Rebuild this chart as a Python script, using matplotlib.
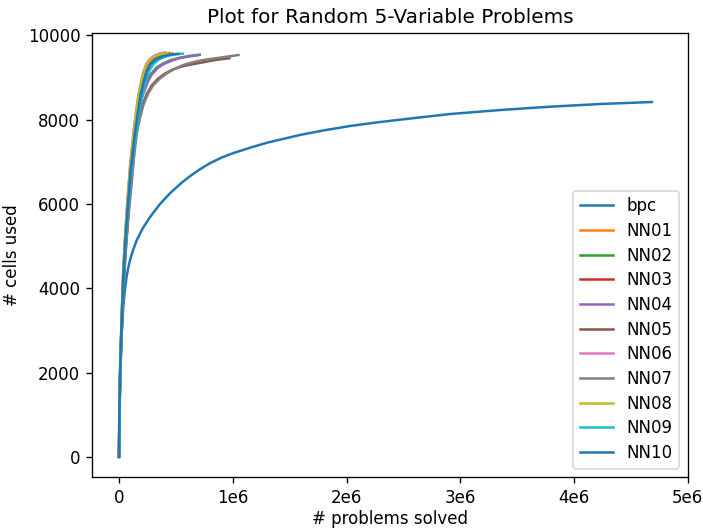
import numpy as np
import matplotlib
matplotlib.use('Agg')
import matplotlib.pyplot as plt

# values (x in millions of problems)
names = ['bpc', 'NN01', 'NN02', 'NN03', 'NN04', 'NN05', 'NN06', 'NN07', 'NN08', 'NN09', 'NN10']

bpc_x = [0, 0.001, 0.004, 0.012, 0.024, 0.038, 0.053, 0.065, 0.082, 0.1, 0.125, 0.156, 0.21, 0.273,
         0.36, 0.449, 0.55, 0.63, 0.712, 0.8, 0.9, 1.0, 1.152, 1.3, 1.592, 1.8, 2.031, 2.25, 2.471,
         2.91, 3.35, 3.79, 4.23, 4.685]
bpc_y = [0, 700, 1500, 2350, 2937, 3600, 3980, 4250, 4504, 4700, 4920, 5145, 5430, 5691,
         6000, 6258, 6505, 6673, 6825, 6970, 7100, 7205, 7336, 7454, 7640, 7748, 7852, 7931, 8002,
         8136, 8231, 8310, 8374, 8421]

nn01_x = [0, .003, .008, .016, .025, .038, .053, .074, .1, .133, .158, .18, .206, .228, .26, .3, .35, .41, .47]
nn01_y = [0, 1000, 1800, 2650, 3400, 4350, 5100, 5950, 6850, 7680, 8200, 8590, 8920, 9140, 9330, 9440, 9510, 9555, 9575]

nn02_x = [0, .003, .009, .018, .029, .044, .062, .087, .117, .141, .17, .2, .24, .273, .33, .39, .46, .536, .62, .71]
nn02_y = [0, 1000, 1800, 2650, 3400, 4350, 5100, 5950, 6850, 7875, 8300, 8588, 8880, 9062, 9240, 9340, 9420, 9474, 9515, 9545]

nn03_x = [0, .003, .008, .016, .025, .037, .052, .073, .098, .13, .155, .176, .2, .222, .255, .29, .335, .39, .44]
nn03_y = [0, 1000, 1800, 2650, 3400, 4350, 5100, 5950, 6850, 7680, 8200, 8590, 8920, 9140, 9340, 9450, 9520, 9560, 9580]

nn04_x = [0, .003, .009, .019, .03, .046, .065, .091, .123, .148, .178, .21, .25, .285, .34, .4, .47, .54, .62, .695]
nn04_y = [0, 1000, 1800, 2650, 3400, 4350, 5100, 5950, 6850, 7875, 8300, 8588, 8880, 9062, 9230, 9330, 9410, 9465, 9505, 9530]

nn05_x = [0, .004, .01, .019, .03, .045, .062, .085, .116, .15, .178, .206, .245, .29, .345, .405, .47, .545, .63, .72, .85, .97]
nn05_y = [0, 1000, 1800, 2650, 3400, 4350, 5100, 5950, 6850, 7678, 8050, 8350, 8620, 8825, 8980, 9100, 9190, 9260, 9310, 9355, 9420, 9460]

nn06_x = [0, .003, .008, .015, .024, .036, .05, .07, .095, .126, .15, .17, .195, .214, .24, .27, .31, .36, .405]
nn06_y = [0, 1000, 1800, 2650, 3400, 4350, 5100, 5950, 6850, 7680, 8200, 8590, 8920, 9140, 9330, 9440, 9520, 9575, 9600]

nn07_x = [0, .004, .01, .019, .03, .046, .064, .088, .12, .156, .185, .214, .255, .302, .36, .42, .49, .566, .65, .741, .888, 1.05]
nn07_y = [0, 1000, 1800, 2650, 3400, 4350, 5100, 5950, 6850, 7678, 8050, 8350, 8620, 8825, 8980, 9102, 9210, 9300, 9365, 9418, 9474, 9537]

nn08_x = [0, .003, .008, .015, .024, .037, .051, .072, .097, .128, .152, .173, .198, .218, .25, .285, .33, .38, .43]
nn08_y = [0, 1000, 1800, 2650, 3400, 4350, 5100, 5950, 6850, 7680, 8200, 8590, 8920, 9140, 9340, 9450, 9525, 9565, 9585]

nn09_x = [0, .003, .009, .017, .027, .041, .058, .081, .11, .148, .177, .205, .235, .262, .3, .35, .41, .49, .56]
nn09_y = [0, 1000, 1800, 2650, 3400, 4350, 5100, 5950, 6850, 7680, 8200, 8590, 8920, 9140, 9320, 9430, 9505, 9550, 9570]

nn10_x = [0, .003, .008, .016, .026, .039, .055, .077, .104, .14, .167, .19, .218, .243, .275, .32, .38, .45, .52]
nn10_y = [0, 1000, 1800, 2650, 3400, 4350, 5100, 5950, 6850, 7680, 8200, 8590, 8920, 9140, 9320, 9430, 9500, 9545, 9565]

xs = [bpc_x, nn01_x, nn02_x, nn03_x, nn04_x, nn05_x, nn06_x, nn07_x, nn08_x, nn09_x, nn10_x]
ys = [bpc_y, nn01_y, nn02_y, nn03_y, nn04_y, nn05_y, nn06_y, nn07_y, nn08_y, nn09_y, nn10_y]

xtick_vals = [0, 1e6, 2e6, 3e6, 4e6, 5e6]
xtick_labels = ['0', '1e6', '2e6', '3e6', '4e6', '5e6']

fig = plt.figure(figsize=(703 / 120, 529 / 120), dpi=120)
ax = fig.add_axes([0.1309, 0.0983, 0.8474, 0.8393])

for name, x, y in zip(names, xs, ys):
    ax.plot(np.array(x) * 1e6, y, label=name)

ax.set_xticks(xtick_vals)
ax.set_xticklabels(xtick_labels)
ax.set_xlim(-0.2375e6, 5e6)
ax.set_ylim(-479, 10059)
ax.set_title('Plot for Random 5-Variable Problems')
ax.set_xlabel('# problems solved', labelpad=2)
ax.set_ylabel('# cells used')
ax.legend(loc='lower right', labelspacing=0.4)

fig.savefig('out.png', dpi=120)
